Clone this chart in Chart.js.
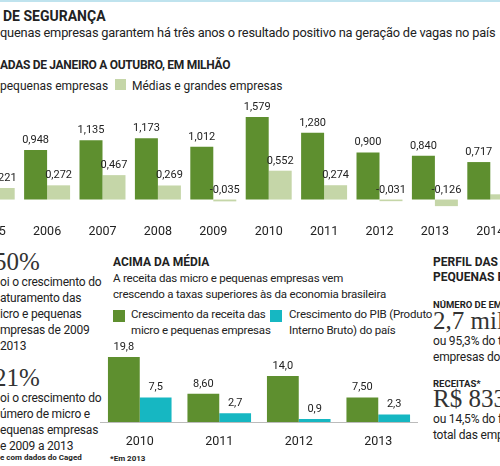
<!DOCTYPE html>
<html><head><meta charset="utf-8">
<script src="https://cdn.jsdelivr.net/npm/chart.js@4"></script>
<style>
body{margin:0;width:500px;height:466px;overflow:hidden;background:#fff;font-family:Roboto,sans-serif;color:#222;position:relative}
.a{position:absolute;white-space:nowrap}
.b{font-weight:bold}
.big{font-family:"Liberation Serif",serif;font-size:25px;color:#333}
.p{font-size:12px;line-height:16px;letter-spacing:-0.2px}
</style></head><body>
<div class="a" style="left:0;top:0;width:500px;height:2px;background:#bfe3ee"></div>
<div class="a b" style="left:3px;top:8px;font-size:14px">DE SEGURANÇA</div>
<div class="a" style="left:0;top:25px;font-size:12.8px;letter-spacing:-0.2px">quenas empresas garantem há três anos o resultado positivo na geração de vagas no país</div>
<div class="a b" style="left:0;top:58px;font-size:12px;letter-spacing:-0.3px">ADAS DE JANEIRO A OUTUBRO, EM MILHÃO</div>
<div class="a" style="left:0;top:79px;font-size:12px">pequenas empresas</div>
<div class="a" style="left:115px;top:79px;width:11px;height:11px;background:#c5d6a8"></div>
<div class="a" style="left:132px;top:79px;font-size:12px">Médias e grandes empresas</div>
<div class="a" style="left:-36px;top:99px;width:554px;height:141px"><canvas id="c1"></canvas></div>

<div class="a big" style="left:-6px;top:248px">50%</div>
<div class="a p" style="left:0;top:274px">oi o crescimento do<br>aturamento das<br>icro e pequenas<br>mpresas de 2009<br> 2013</div>
<div class="a big" style="left:-6px;top:364px">21%</div>
<div class="a p" style="left:0;top:390px">oi o crescimento do<br>úmero de micro e<br>equenas empresas<br>e 2009 a 2013</div>
<div class="a b" style="left:0;top:453px;font-size:8px">e com dados do Caged</div>

<div class="a b" style="left:113px;top:255px;font-size:12px">ACIMA DA MÉDIA</div>
<div class="a" style="left:113px;top:270px;font-size:11.5px;line-height:16px;letter-spacing:-0.2px">A receita das micro e pequenas empresas vem<br>crescendo a taxas superiores às da economia brasileira</div>
<div class="a" style="left:113px;top:310px;width:12px;height:12px;background:#5e8f2f"></div>
<div class="a" style="left:131px;top:306px;font-size:11.5px;line-height:16px;letter-spacing:-0.2px">Crescimento da receita das<br>micro e pequenas empresas</div>
<div class="a" style="left:270px;top:310px;width:12px;height:12px;background:#16b7c2"></div>
<div class="a" style="left:289px;top:306px;font-size:11.5px;line-height:16px;letter-spacing:-0.2px">Crescimento do PIB (Produto<br>Interno Bruto) do país</div>
<div class="a" style="left:100px;top:333px;width:318px;height:119px"><canvas id="c2"></canvas></div>
<div class="a b" style="left:110px;top:454px;font-size:8px">*Em 2013</div>

<div class="a b" style="left:433px;top:255px;font-size:12px;line-height:15px">PERFIL DAS M<br>PEQUENAS E</div>
<div class="a b" style="left:433px;top:299px;font-size:9.5px">NÚMERO DE EMP</div>
<div class="a big" style="left:433px;top:307px">2,7 milh</div>
<div class="a p" style="left:433px;top:333px">ou 95,3% do t<br>empresas do p</div>
<div class="a b" style="left:433px;top:378px;font-size:9.5px">RECEITAS*</div>
<div class="a big" style="left:433px;top:385px">R$ 833</div>
<div class="a p" style="left:433px;top:411px">ou 14,5% do f<br>total das empr</div>
<script>
const years1=["2005","2006","2007","2008","2009","2010","2011","2012","2013","2014"];
const small1=[0.68,0.948,1.135,1.173,1.012,1.579,1.280,0.900,0.840,0.717];
const big1=[0.221,0.272,0.467,0.269,-0.035,0.552,0.274,-0.031,-0.126,0.10];
const smallLbl=["","0,948","1,135","1,173","1,012","1,579","1,280","0,900","0,840","0,717"];
const bigLbl=["0,221","0,272","0,467","0,269","-0,035","0,552","0,274","-0,031","-0,126",""];
const years2=["2010","2011","2012","2013"];
const rec2=[19.8,8.60,14.0,7.50];
const pib2=[7.5,2.7,0.9,2.3];
const recLbl=["19,8","8,60","14,0","7,50"];
const pibLbl=["7,5","2,7","0,9","2,3"];

const lbl={id:'lbl',afterDatasetsDraw(ch){const c=ch.ctx;c.save();c.fillStyle='#222';c.font='11px Roboto,sans-serif';c.textAlign='center';
 ch.data.datasets.forEach((d,i)=>{ch.getDatasetMeta(i).data.forEach((e,j)=>{const t=d.lbls[j];if(!t)return;const neg=d.data[j]<0;const y=neg?ch.scales.y.getPixelForValue(0)-7:e.y-7;c.fillText(t,e.x,y);});});c.restore();}};
const fit=h=>({afterFit(s){s.height=h;}});
const base={responsive:true,maintainAspectRatio:false,animation:false,plugins:{legend:{display:false},tooltip:{enabled:false}}};
Chart.defaults.font.family='Roboto,sans-serif';
new Chart(document.getElementById('c1'),{type:'bar',plugins:[lbl],data:{labels:years1,datasets:[
 {data:small1,lbls:smallLbl,backgroundColor:'#5e8f2f',categoryPercentage:0.83,barPercentage:1},
 {data:big1,lbls:bigLbl,backgroundColor:'#c5d6a8',categoryPercentage:0.83,barPercentage:1}]},
 options:{...base,layout:{padding:{top:18}},scales:{x:{...fit(30),grid:{display:false},border:{display:false},ticks:{color:'#222',padding:6,font:{size:12.5}}},y:{display:false,min:-0.2,max:1.579}}}});
new Chart(document.getElementById('c2'),{type:'bar',plugins:[lbl,{id:'bl',afterDatasetsDraw(ch){const c=ch.ctx,y=ch.scales.y.getPixelForValue(0);c.strokeStyle='#bbb';c.beginPath();c.moveTo(0,y+0.5);c.lineTo(ch.width,y+0.5);c.stroke();}}],data:{labels:years2,datasets:[
 {data:rec2,lbls:recLbl,backgroundColor:'#5e8f2f',categoryPercentage:0.8,barPercentage:1},
 {data:pib2,lbls:pibLbl,backgroundColor:'#16b7c2',categoryPercentage:0.8,barPercentage:1}]},
 options:{...base,layout:{padding:{top:24}},scales:{x:{...fit(30),grid:{display:false},border:{display:false},ticks:{color:'#222',padding:4,font:{size:12.5}}},y:{display:false,min:0,max:19.8}}}});
</script></body></html>
